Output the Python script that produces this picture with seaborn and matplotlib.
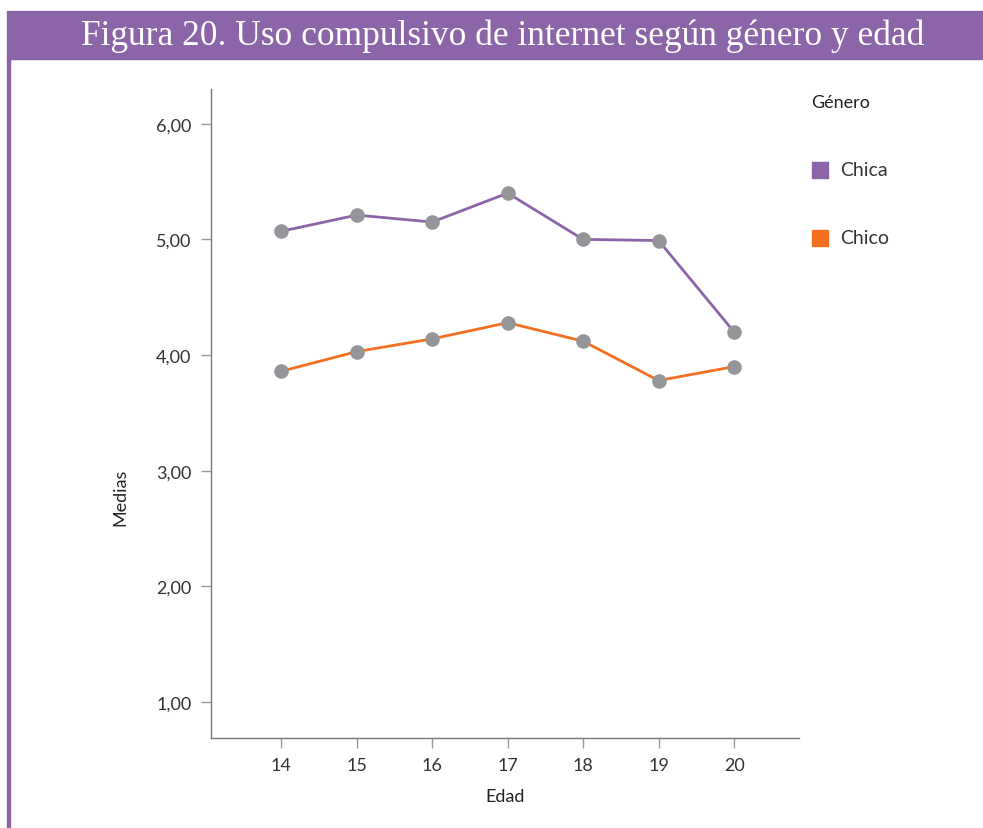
import matplotlib
matplotlib.use("Agg")
import matplotlib.pyplot as plt
import matplotlib.patches as mpatches
import seaborn as sns
import pandas as pd

# data
edades = [14, 15, 16, 17, 18, 19, 20]
chica = [5.07, 5.21, 5.15, 5.40, 5.00, 4.99, 4.20]
chico = [3.86, 4.03, 4.14, 4.28, 4.12, 3.78, 3.90]
generos = ["Chica", "Chico"]
y_ticks = [1, 2, 3, 4, 5, 6]

PURPLE = "#8c64a8"
ORANGE = "#f37021"
GREY = "#939598"

sns.set_style("white")
plt.rcParams["font.family"] = ["Lato", "DejaVu Sans"]

df = pd.DataFrame({
    "Edad": edades * 2,
    "Medias": chica + chico,
    "Género": ["Chica"] * len(edades) + ["Chico"] * len(edades),
})

fig = plt.figure(figsize=(9.83, 8.29), dpi=100)
W, H = 983, 829
ax = fig.add_axes([211 / W, 1 - 739 / H, (799 - 211) / W, (739 - 90) / H])

sns.lineplot(data=df, x="Edad", y="Medias", hue="Género",
             palette={"Chica": PURPLE, "Chico": ORANGE},
             linewidth=2, legend=False, ax=ax)
for g in generos:
    sub = df[df["Género"] == g]
    ax.scatter(sub["Edad"], sub["Medias"], s=110, color=GREY, zorder=3, linewidths=0)

ax.set_xlim(13.07, 20.86)
ax.set_ylim(0.69, 6.30)
ax.set_xticks(edades)
ax.set_yticks(y_ticks)
ax.set_yticklabels([f"{v:.2f}".replace(".", ",") for v in y_ticks])
ax.tick_params(axis="both", bottom=True, left=True, length=7, width=1, color="#999999",
               labelsize=13, labelcolor="#333333", pad=7, direction="out")
for s in ["top", "right"]:
    ax.spines[s].set_visible(False)
for s in ["left", "bottom"]:
    ax.spines[s].set_color("#777777")
    ax.spines[s].set_linewidth(1)
ax.set_xlabel("")
ax.set_ylabel("")

fig.text(505 / W, 1 - 797 / H, "Edad", ha="center", va="center", fontsize=13, color="#222222")
fig.text(120 / W, 1 - 497 / H, "Medias", ha="center", va="center", rotation=90,
         fontsize=13, color="#222222")

# legend
fig.text(811 / W, 1 - 103 / H, "Género", ha="left", va="center", fontsize=13, color="#222222")
for i, (g, c) in enumerate(zip(generos, [PURPLE, ORANGE])):
    yc = 171 + i * 68
    fig.patches.append(mpatches.Rectangle((812 / W, 1 - (yc + 8) / H), 16 / W, 16 / H,
                                          transform=fig.transFigure, color=c))
    fig.text(840 / W, 1 - yc / H, g, ha="left", va="center", fontsize=14, color="#333333")

# header band and left rule
fig.patches.append(mpatches.Rectangle((10 / W, 1 - 60 / H), 1, 48 / H,
                                      transform=fig.transFigure, color=PURPLE))
fig.patches.append(mpatches.Rectangle((7 / W, 0), 3 / W, 1 - 12 / H,
                                      transform=fig.transFigure, color=PURPLE))
fig.text(503 / W, 1 - 36 / H, "Figura 20. Uso compulsivo de internet según género y edad",
         ha="center", va="center", fontsize=25.5, color="white",
         family=["Liberation Serif", "DejaVu Serif"])

fig.savefig("out.png", dpi=100)
